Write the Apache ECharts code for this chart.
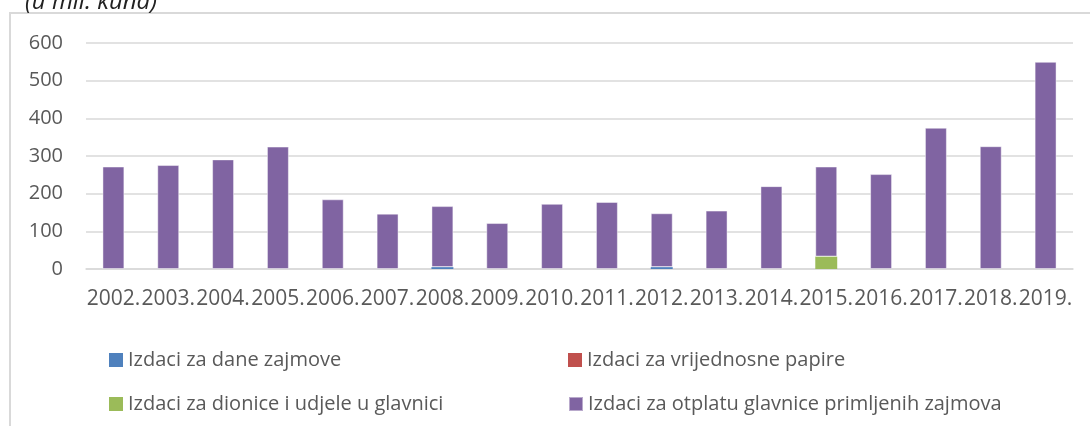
<!DOCTYPE html>
<html>
<head>
<meta charset="utf-8">
<script src="https://cdn.jsdelivr.net/npm/echarts@6/dist/echarts.min.js"></script>
<style>
  html, body { margin: 0; padding: 0; background: #fff; }
  #chart { width: 1090px; height: 426px; }
</style>
</head>
<body>
<div id="chart"></div>
<script>
const years = ['2002.', '2003.', '2004.', '2005.', '2006.', '2007.', '2008.', '2009.', '2010.',
  '2011.', '2012.', '2013.', '2014.', '2015.', '2016.', '2017.', '2018.', '2019.']

// u mil. kuna
const daneZajmove = [0, 0, 0, 0, 0, 0, 5, 0, 0, 0, 5, 0, 0, 0, 0, 0, 0, 0]
const vrijednosniPapiri = [0, 0, 0, 0, 0, 0, 0, 0, 0, 0, 0, 0, 0, 0, 0, 0, 0, 0]
const dioniceUdjeli = [0, 0, 0, 0, 0, 0, 0, 0, 0, 0, 0, 0, 0, 33, 0, 0, 0, 0]
const otplataGlavnice = [272, 276, 291, 325, 185, 147, 162, 122, 173, 178, 143, 155, 220, 239, 252, 375, 326, 550]

const yTicks = { min: 0, max: 600, interval: 100 }

const names = [
  'Izdaci za dane zajmove',
  'Izdaci za vrijednosne papire',
  'Izdaci za dionice i udjele u glavnici',
  'Izdaci za otplatu glavnice primljenih zajmova',
]
const colors = ['#4f81bd', '#c0504d', '#9bbb59', '#8064a2']

const font = 'Open Sans'
const textColor = '#595959'

const chart = echarts.init(document.getElementById('chart'), null, { renderer: 'canvas' })

const legendPos = [
  { left: 104, top: 344 },
  { left: 563, top: 344 },
  { left: 104, top: 388 },
  { left: 563, top: 388 },
]

chart.setOption({
  backgroundColor: '#fff',
  animation: false,
  color: colors,
  graphic: [
    {
      type: 'rect',
      shape: { x: 10, y: 13, width: 1200, height: 600 },
      style: { fill: 'none', stroke: '#d9d9d9', lineWidth: 2 },
      silent: true,
    },
    {
      type: 'text',
      left: 25,
      top: -10,
      style: {
        text: '(u mil. kuna)',
        fontFamily: font,
        fontStyle: 'italic',
        fontSize: 24,
        fill: '#222',
      },
    },
  ],
  grid: {
    left: 86,
    right: 17,
    top: 43,
    bottom: 157,
  },
  legend: legendPos.map((p, i) => ({
    data: [names[i]],
    left: p.left,
    top: p.top,
    itemWidth: 14,
    itemHeight: 14,
    itemGap: 0,
    icon: 'rect',
    textStyle: { fontFamily: font, fontSize: 20, color: textColor, lineHeight: 22 },
  })),
  xAxis: {
    type: 'category',
    data: years,
    axisTick: { show: false },
    axisLine: { lineStyle: { color: '#d9d9d9', width: 1.5 } },
    axisLabel: {
      interval: 0,
      margin: 20,
      fontFamily: font,
      fontSize: 21,
      color: textColor,
    },
  },
  yAxis: {
    type: 'value',
    min: yTicks.min,
    max: yTicks.max,
    interval: yTicks.interval,
    axisLine: { show: false },
    axisTick: { show: false },
    splitLine: { lineStyle: { color: '#d9d9d9', width: 1.5 } },
    axisLabel: {
      margin: 23,
      fontFamily: font,
      fontSize: 20,
      color: textColor,
    },
  },
  series: [
    { name: names[0], type: 'bar', stack: 'izdaci', data: daneZajmove, barWidth: '40%' },
    { name: names[1], type: 'bar', stack: 'izdaci', data: vrijednosniPapiri, barWidth: '40%' },
    { name: names[2], type: 'bar', stack: 'izdaci', data: dioniceUdjeli, barWidth: '40%' },
    {
      name: names[3],
      type: 'bar',
      stack: 'izdaci',
      data: otplataGlavnice,
      barWidth: '40%',
      itemStyle: { borderColor: 'rgba(255,255,255,0.45)', borderWidth: 1 },
    },
  ],
})
</script>
</body>
</html>
